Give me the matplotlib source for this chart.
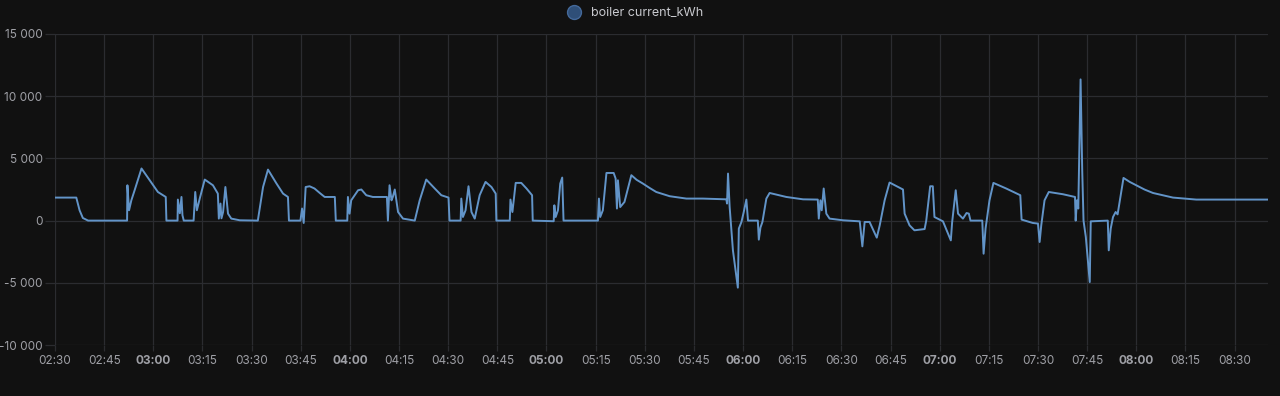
import matplotlib
matplotlib.use("Agg")
import matplotlib.pyplot as plt
from matplotlib.lines import Line2D

# minutes after 02:30
t_min = [0, 6.5, 7.5, 8.5, 10.1, 22.0, 22.1, 22.6, 23.3, 24.3, 26.4, 28.9, 31.4, 33.8, 34.0,
         37.4, 37.5, 38.1, 38.6, 38.9, 39.3, 42.3, 42.8, 43.3, 44.2, 45.7, 48.2, 49.7, 50.0,
         50.5, 50.8, 51.3, 52.0, 52.8, 53.8, 56.4, 61.9, 63.5, 65.0, 67.6, 69.6, 71.1, 71.4,
         74.9, 75.4, 75.9, 76.5, 77.7, 79.2, 80.8, 82.3, 85.4, 85.7, 89.2, 89.4, 89.9, 90.4,
         92.5, 93.5, 95.0, 97.0, 101.3, 101.6, 102.1, 102.7, 103.1, 103.7, 104.7, 106.2,
         109.8, 111.3, 113.3, 115.9, 117.9, 120.1, 120.4, 123.8, 124.0, 124.5, 125.3, 126.2,
         127.1, 128.1, 129.6, 131.4, 133.2, 134.5, 134.7, 138.8, 139.0, 139.6, 140.6, 142.3,
         143.9, 145.6, 145.8, 152.2, 152.4, 152.8, 153.5, 154.2, 154.8, 155.2, 165.7, 166.0,
         166.4, 167.2, 168.3, 170.5, 171.1, 171.5, 171.8, 172.5, 173.8, 175.9, 177.5, 179.4,
         181.5, 183.5, 187.6, 192.7, 197.7, 204.9, 205.1, 205.4, 205.9, 206.9, 208.4, 208.7,
         209.5, 210.2, 211.0, 211.5, 214.5, 214.8, 215.3, 215.9, 217.1, 218.1, 223.2, 228.3,
         232.8, 233.1, 233.6, 234.0, 234.6, 235.4, 236.4, 240.5, 245.6, 246.4, 247.1, 248.6,
         250.8, 251.7, 253.2, 254.7, 258.8, 259.3, 260.8, 262.3, 265.4, 265.9, 267.1, 267.9,
         268.4, 271.0, 273.4, 273.8, 274.9, 275.6, 277.1, 278.2, 278.9, 279.4, 283.0, 283.4,
         284.0, 285.2, 286.4, 290.3, 294.6, 295.0, 298.4, 300.0, 300.5, 301.0, 302.0, 303.3,
         307.6, 311.3, 311.5, 311.9, 312.3, 313.0, 313.5, 313.9, 314.6, 315.8, 316.1, 321.3,
         321.6, 322.2, 322.9, 323.7, 324.3, 326.1, 328.0, 330.0, 332.5, 335.1, 341.2, 348.3,
         358.5, 370.2]
kwh = [1850, 1850, 830, 210, 0, 0, 2840, 830, 1630, 2440, 4190, 3240, 2300, 1900, 0,
       0, 1690, 590, 1900, 430, 0, 0, 2300, 830, 1800, 3300, 2840, 2170, 160,
       1370, 185, 690, 2700, 560, 160, 25, 0, 2700, 4100, 2980, 2170, 1900, 0,
       0, 970, -190, 2700, 2760, 2580, 2220, 1900, 1900, 0, 0, 1900, 560, 1630,
       2440, 2500, 2040, 1900, 1900, 0, 2840, 1630, 1900, 2500, 690, 160,
       0, 1630, 3300, 2580, 2040, 1850, 0, 0, 1770, 290, 830, 2760,
       690, 160, 2040, 3110, 2700, 2170, 0, 0, 1690, 690, 3030, 3030,
       2580, 2040, 0, -50, 1230, 290, 830, 2980, 3460, 0, 0, 1770,
       290, 830, 3830, 3830, 3380, 970, 3240, 1090, 1500, 3650, 3280, 2980,
       2620, 2300, 1960, 1770, 1770, 1710, 1370, 3780, 1090, -2390, -5390, -640,
       -110, 690, 1690, 0, 0, -1530, -560, -110, 1770, 2220, 1900, 1710,
       1690, 160, 1630, 830, 2580, 560, 160, 25, -60, -2070, -110, -110,
       -1370, -380, 1630, 3060, 2500, 560, -380, -780, -680, 0, 2760, 2760,
       290, -60, -1590, -140, 2440, 560, 160, 610, 560, 0, 0, -2660,
       -640, 1630, 3030, 2580, 2040, 80, -190, -240, -1720, -380, 1630, 2300,
       2120, 1900, 0, 1630, 970, 11350, 4050, 0, -1320, -4940, -60, 0,
       -2390, -640, 290, 690, 500, 3430, 3110, 2840, 2500, 2220, 1850, 1690,
       1690, 1690]

series_name = "boiler current_kWh"
y_ticks = [-10000, -5000, 0, 5000, 10000, 15000]
x_ticks = list(range(0, 361, 15))

bg = "#111111"
grid_c = "#2b2c30"
txt_c = "#9fa0a6"
line_c = "#6294c8"

plt.rcParams["font.family"] = ["Inter", "DejaVu Sans"]

fig = plt.figure(figsize=(12.8, 3.96), dpi=100, facecolor=bg)
ax = fig.add_axes([55 / 1280, 1 - 345 / 396, (1268 - 55) / 1280, (345 - 34) / 396])
ax.set_facecolor(bg)

ax.plot(t_min, kwh, color=line_c, lw=1.4, solid_joinstyle="round")

ax.set_xlim(0, 370.2)
ax.set_ylim(-10000, 15000)
ax.set_yticks(y_ticks)
ax.set_yticklabels([f"{v:,}".replace(",", " ") for v in y_ticks])
ax.set_xticks(x_ticks)
labels = []
for m in x_ticks:
    tot = 150 + m
    labels.append(f"{tot // 60:02d}:{tot % 60:02d}")
ax.set_xticklabels(labels)
for lab, m in zip(ax.get_xticklabels(), x_ticks):
    if (150 + m) % 60 == 0:
        lab.set_fontweight("bold")
        lab.set_color("#c8c9ce")

ax.grid(True, color=grid_c, lw=0.9)
ax.tick_params(axis="both", colors=grid_c, labelcolor=txt_c, labelsize=8.5, width=0.9)
ax.tick_params(axis="y", length=7, pad=2)
ax.tick_params(axis="x", length=4, pad=3)
for s in ax.spines.values():
    s.set_visible(False)

handle = Line2D([], [], marker="o", linestyle="none", markersize=10,
                markerfacecolor="#2f4f78", markeredgecolor="#44699a")
fig.legend([handle], [series_name], loc="upper center", bbox_to_anchor=(0.494, 1.01),
           frameon=False, fontsize=9, labelcolor="#c8c9ce", handletextpad=0.3)

fig.savefig("out.png", dpi=100, facecolor=bg)
